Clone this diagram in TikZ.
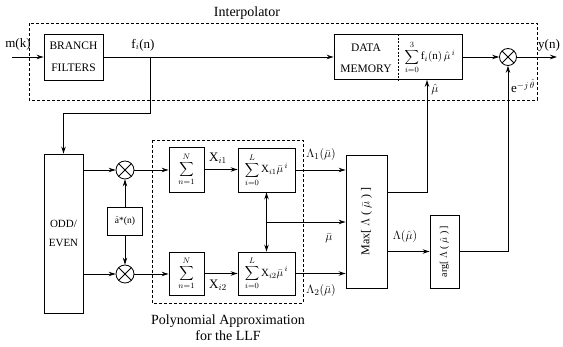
\documentclass[tikz,border=0pt]{standalone}
\usepackage{fontspec}
\setmainfont{Liberation Serif}
\usetikzlibrary{arrows.meta,calc}
\begin{document}
\begin{tikzpicture}[x=1pt,y=-1pt,
  box/.style={draw,line width=0.9pt,inner sep=0pt,align=center,font=\fontsize{11.5}{13}\selectfont},
  arr/.style={-{Stealth[length=7pt,width=4.5pt]},line width=0.8pt},
  darr/.style={{Stealth[length=7pt,width=4.5pt]}-{Stealth[length=7pt,width=4.5pt]},line width=0.8pt},
  ln/.style={line width=0.8pt},
  dbox/.style={draw,line width=0.7pt,dash pattern=on 3pt off 2pt},
  lbl/.style={inner sep=0pt,font=\fontsize{13}{15}\selectfont},
  big/.style={inner sep=0pt,font=\fontsize{14}{16}\selectfont},
  mult/.style={draw,circle,minimum size=17pt,inner sep=0pt,line width=0.8pt,
    path picture={\draw[line width=0.8pt] (path picture bounding box.north west)--(path picture bounding box.south east)
      (path picture bounding box.north east)--(path picture bounding box.south west);}}
]
\useasboundingbox (0,0) rectangle (563,347);

% dashed groups
\draw[dbox] (29,23) rectangle (537,100);
\draw[dbox] (152,140) rectangle (303,303);
\node[big] (tint) at (247,13) {Interpolator};
\node[big,align=center] (tpoly) at (228,328) {Polynomial Approximation\\for the LLF};

% top row
\node[box,minimum width=59pt,minimum height=46pt] (bf) at (73.5,57) {BRANCH\\[9pt]FILTERS};
\node[box,minimum width=128pt,minimum height=45pt] (dm) at (398,57) {};
\draw[ln,dash pattern=on 2pt off 1.5pt] (dm.north) -- (dm.south);
\node[box,draw=none] (dmt) at (366,58) {DATA\\[8pt]MEMORY};
\node[inner sep=0pt,font=\fontsize{11}{12}\selectfont] (dms) at (430,57) {$\displaystyle\sum_{i=0}^{3} \mathrm{f}_i(\mathrm{n})\,\hat{\mu}^{\,i}$};
\node[mult] (m0) at (508,57) {};
\coordinate (mk) at (12,57);
\coordinate (yo) at (557,57);
\coordinate (j1) at (150,57);

\node[lbl] (lmk) at (18,44) {m(k)};
\node[lbl] (lfi) at (143,45) {$\mathrm{f}_i$(n)};
\node[lbl] (lyn) at (549,45) {y(n)};
\node[lbl] (lmuh) at (435,90) {$\hat{\mu}$};
\node[lbl] (lej) at (523,86) {e$^{-j\,\hat{\theta}}$};

\draw[arr] (mk) -- (bf.west);
\draw[arr] (bf.east) -- (dm.west);
\draw[arr] (dm.east) -- (m0.west);
\draw[arr] (m0.east) -- (yo);

% lower part
\node[box,minimum width=39pt,minimum height=159pt,font=\fontsize{11}{13}\selectfont] (oe) at (63.5,233.5) {ODD/\\[6pt]EVEN};
\draw[arr] (j1) -- (150,113) -| (oe.north);

\node[mult,minimum size=18pt] (c1) at (125,170) {};
\node[mult,minimum size=18pt] (c2) at (125,274) {};
\node[box,minimum width=35pt,minimum height=28pt,font=\fontsize{9.5}{10}\selectfont] (ah) at (125,221) {$\hat{\mathrm{a}}$*(n)};
\draw[arr] (oe.east |- c1) -- (c1.west);
\draw[arr] (oe.east |- c2) -- (c2.west);
\draw[arr] (ah.north) -- (c1.south);
\draw[arr] (ah.south) -- (c2.north);

\node[box,minimum width=35pt,minimum height=45pt,font=\fontsize{11}{12}\selectfont] (s1) at (186.5,169.5) {$\displaystyle\sum_{n=1}^{N}$};
\node[box,minimum width=35pt,minimum height=43pt,font=\fontsize{11}{12}\selectfont] (s2) at (186.5,273.5) {$\displaystyle\sum_{n=1}^{N}$};
\node[box,minimum width=57pt,minimum height=44pt,font=\fontsize{11}{12}\selectfont] (p1) at (266.5,170) {$\displaystyle\sum_{i=0}^{L} \mathrm{X}_{i1}\bar{\mu}^{\,i}$};
\node[box,minimum width=57pt,minimum height=43pt,font=\fontsize{11}{12}\selectfont] (p2) at (266.5,273.5) {$\displaystyle\sum_{i=0}^{L} \mathrm{X}_{i2}\bar{\mu}^{\,i}$};

\draw[arr] (c1.east) -- (c1.east -| s1.west);
\draw[arr] (c2.east) -- (c2.east -| s2.west);
\draw[arr] (s1.east) -- (s1.east -| p1.west);
\draw[arr] (s2.east) -- (s2.east -| p2.west);
\node[lbl] (lx1) at (218,158) {$\mathrm{X}_{i1}$};
\node[lbl] (lx2) at (218,285) {$\mathrm{X}_{i2}$};

\draw[darr] (p1.south) -- (p2.north);
\coordinate (mj) at ($(p1.south)!0.5!(p2.north)$);

\node[box,minimum width=41pt,minimum height=133pt] (mx) at (366.5,221.5) {};
\node[rotate=90,inner sep=0pt,font=\fontsize{12}{13}\selectfont] (mxt) at (mx.center) {Max[\ $\Lambda$\ (\ $\bar{\mu}$\ )\ ]};
\node[box,minimum width=29pt,minimum height=73pt] (ag) at (444.5,251.5) {};
\node[rotate=90,inner sep=0pt,font=\fontsize{10}{11}\selectfont] (agt) at (ag.center) {arg[\ $\Lambda$\ (\ $\hat{\mu}$\ )\ ]};

\draw[arr] (p1.east) -- (p1.east -| mx.west);
\draw[arr] (p2.east) -- (p2.east -| mx.west);
\draw[arr] (mj) -- (mj -| mx.west);
\node[lbl] (l1) at (321,155) {$\Lambda_1(\bar{\mu})$};
\node[lbl] (l2) at (321,291) {$\Lambda_2(\bar{\mu})$};
\node[lbl] (lmb) at (329,238) {$\bar{\mu}$};

\draw[arr] ([yshift=29.5pt]mx.east) -| ([xshift=29pt]dm.south);
\draw[arr] (mx.east |- ag.west) -- (ag.west);
\node[lbl] (lL) at (405,237) {$\Lambda(\hat{\mu})$};
\draw[arr] (ag.east) -| (m0.south);
\end{tikzpicture}
\end{document}
